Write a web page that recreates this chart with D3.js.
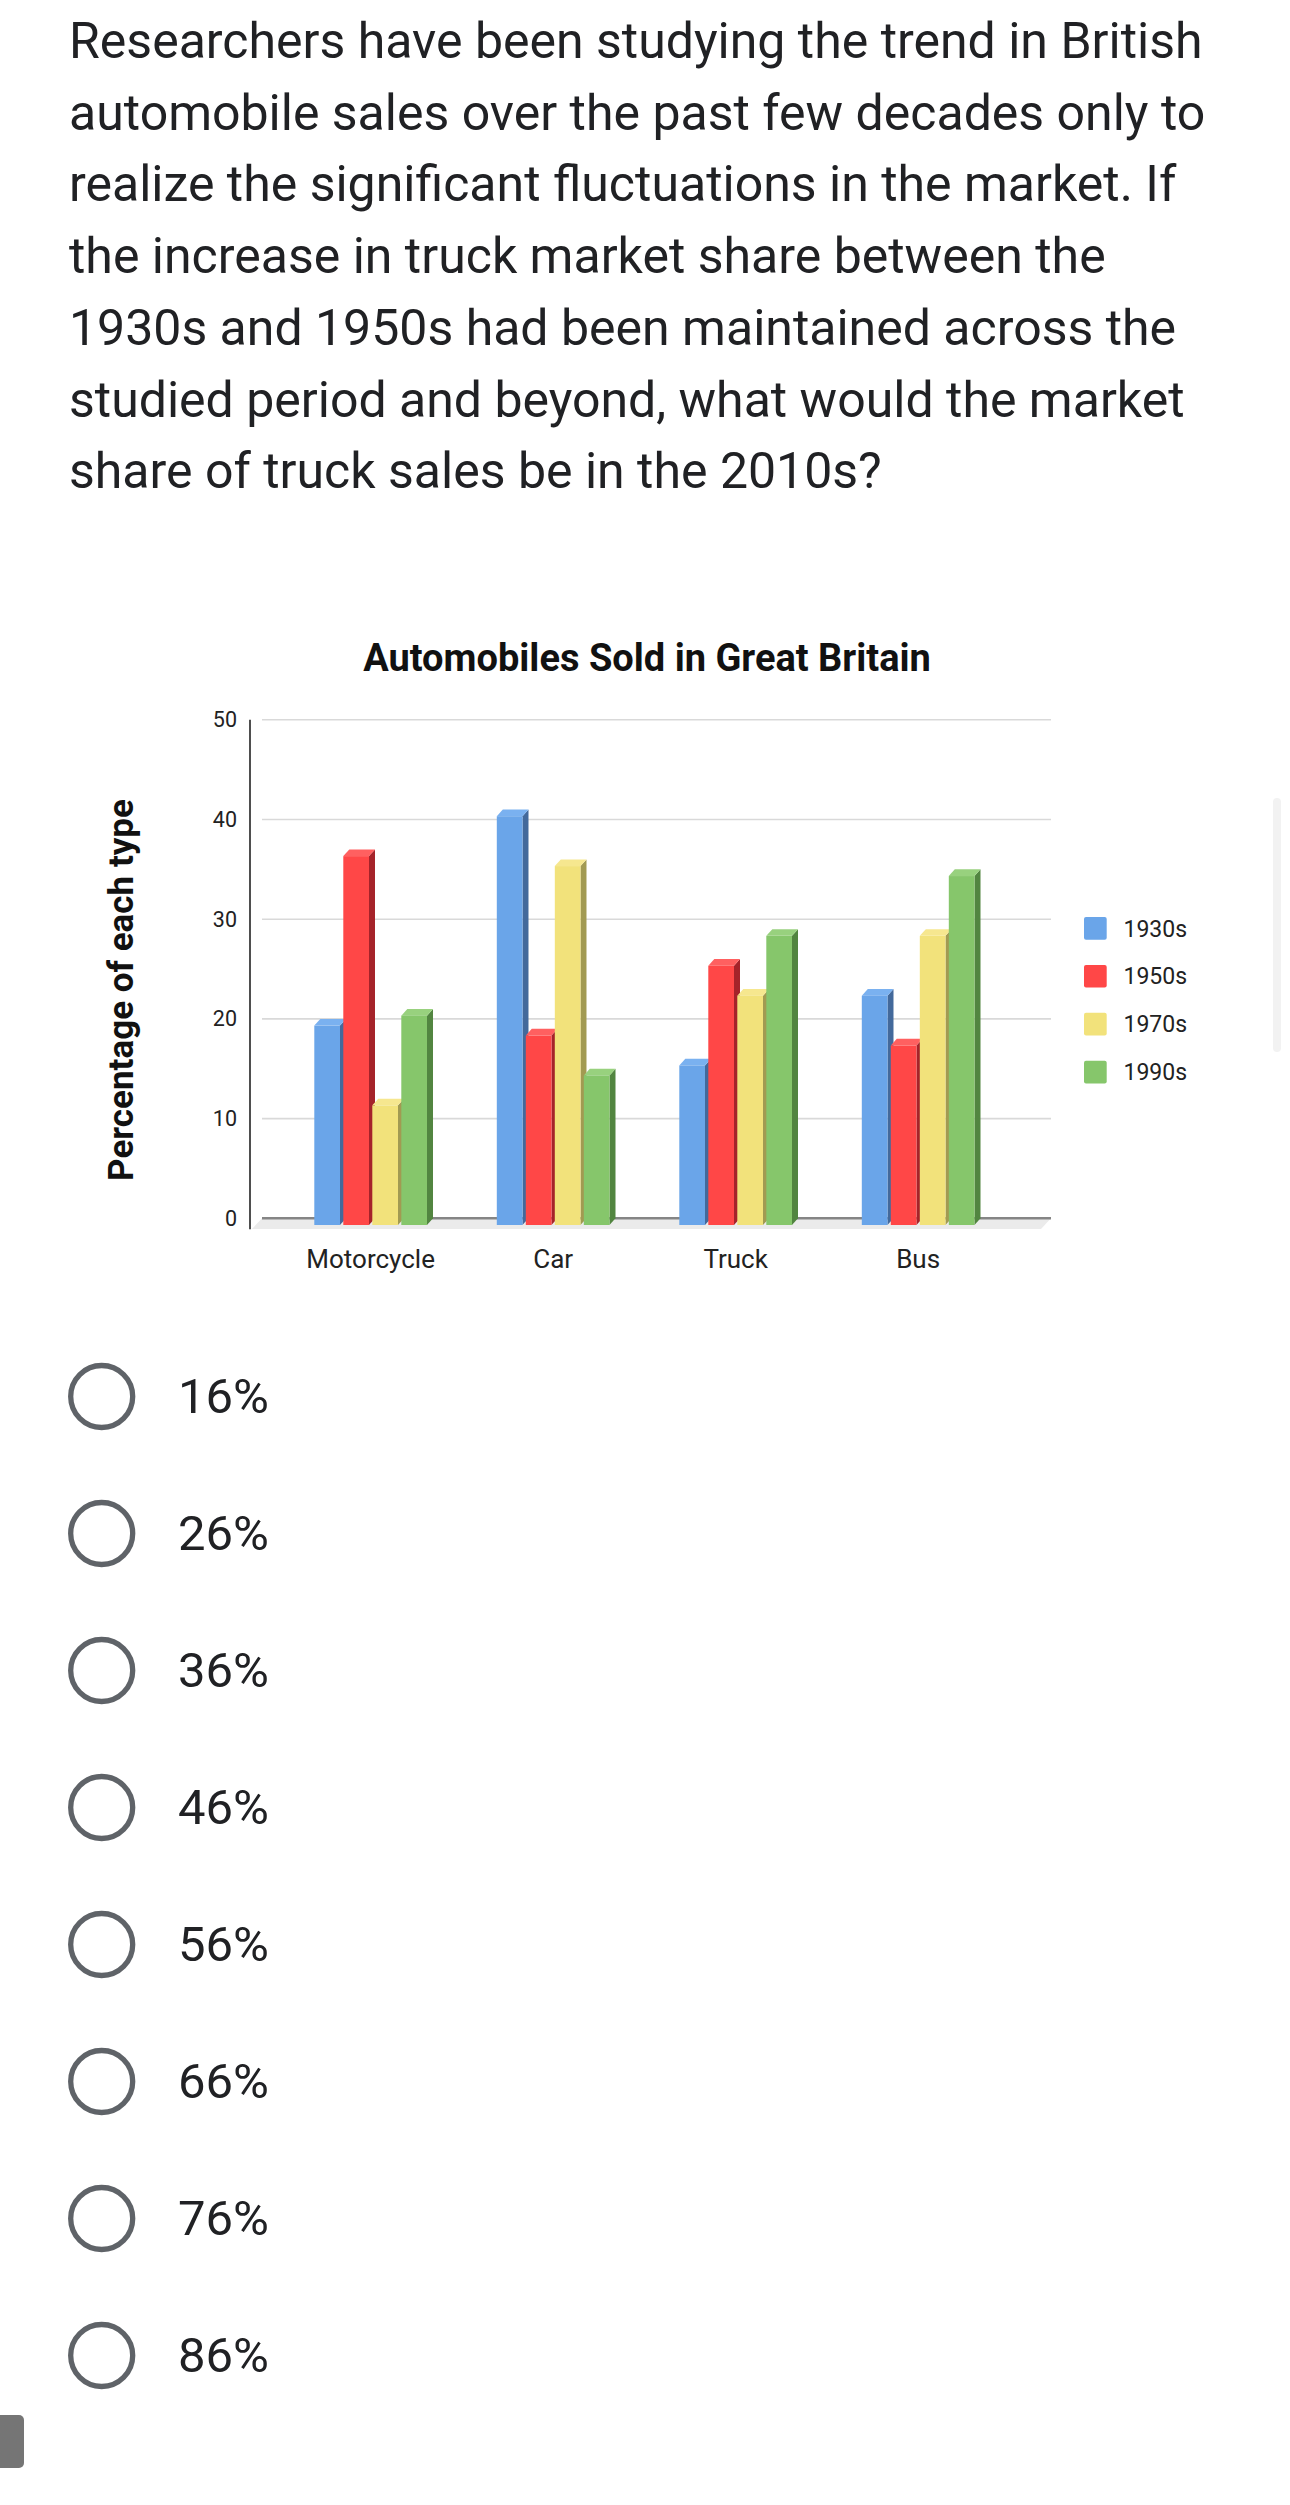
<!DOCTYPE html>
<html lang="en">
<meta charset="utf-8">
<style>
  body { margin: 0; background: #fff; }
  svg text { font-family: Roboto, "Noto Sans", sans-serif; }
</style>
<body>
<div id="my_dataviz"></div>

<script src="https://d3js.org/d3.v7.min.js"></script>
<script>

// question text, one entry per line
var questionLines = [
  "Researchers have been studying the trend in British",
  "automobile sales over the past few decades only to",
  "realize the significant fluctuations in the market. If",
  "the increase in truck market share between the",
  "1930s and 1950s had been maintained across the",
  "studied period and beyond, what would the market",
  "share of truck sales be in the 2010s?"
];

// chart data
var categories = ["Motorcycle", "Car", "Truck", "Bus"];
var series = ["1930s", "1950s", "1970s", "1990s"];
var values1930s = [20, 41, 16, 23];
var values1950s = [37, 19, 26, 18];
var values1970s = [12, 36, 23, 29];
var values1990s = [21, 15, 29, 35];
var yTicks = [0, 10, 20, 30, 40, 50];

var answerOptions = ["16%", "26%", "36%", "46%", "56%", "66%", "76%", "86%"];

var allValues = [values1930s, values1950s, values1970s, values1990s];

// face colours per series: front, side, top
var frontColor = ["#6aa5e9", "#ff4747", "#f2e27b", "#86c66b"];
var sideColor  = ["#43699b", "#a5232a", "#a29a52", "#528540"];
var topColor   = ["#7ab1f0", "#ff6060", "#f6e78f", "#98d17e"];

var svg = d3.select("#my_dataviz")
  .append("svg")
    .attr("width", 1290)
    .attr("height", 2505);

// question
svg.append("g").selectAll("text")
  .data(questionLines)
  .enter()
  .append("text")
    .attr("x", 69)
    .attr("y", function(d, i) { return 58 + i * 71.7; })
    .attr("font-size", 50)
    .attr("fill", "#202124")
    .text(function(d) { return d; });

// chart title
svg.append("text")
  .attr("x", 647)
  .attr("y", 671)
  .attr("text-anchor", "middle")
  .attr("font-size", 38)
  .attr("font-weight", "bold")
  .attr("fill", "#111")
  .text("Automobiles Sold in Great Britain");

// scales
var x = d3.scaleBand()
  .domain(categories)
  .range([282.4, 1012.4]);

var xs = d3.scaleBand()
  .domain(series)
  .range([0, 112.7])
  .paddingInner(0.114)
  .paddingOuter(0);

var y = d3.scaleLinear()
  .domain([0, 50])
  .range([1218.3, 719.8]);

var dx = 6, dy = 6.7;   // depth of the 3d bars
var gridLeft = 262, gridRight = 1051;

// floor
svg.append("path")
  .attr("d", "M" + gridLeft + "," + y(0) + " L" + gridRight + "," + y(0) +
             " L" + (gridRight - 10) + "," + (y(0) + 10.7) +
             " L" + (gridLeft - 10) + "," + (y(0) + 10.7) + " Z")
  .attr("fill", "#ebebeb");

// gridlines
svg.append("g").selectAll("line")
  .data(yTicks.filter(function(d) { return d > 0; }))
  .enter()
  .append("line")
    .attr("x1", gridLeft)
    .attr("x2", gridRight)
    .attr("y1", function(d) { return y(d); })
    .attr("y2", function(d) { return y(d); })
    .attr("stroke", "#d9d9d9")
    .attr("stroke-width", 1.6);

// zero line
svg.append("line")
  .attr("x1", gridLeft)
  .attr("x2", gridRight)
  .attr("y1", y(0))
  .attr("y2", y(0))
  .attr("stroke", "#858585")
  .attr("stroke-width", 2.6);

// y axis line
svg.append("line")
  .attr("x1", 250)
  .attr("x2", 250)
  .attr("y1", y(50))
  .attr("y2", y(0) + 11)
  .attr("stroke", "#222")
  .attr("stroke-width", 1.6);

// y tick labels
svg.append("g").selectAll("text")
  .data(yTicks)
  .enter()
  .append("text")
    .attr("x", 237)
    .attr("y", function(d) { return y(d); })
    .attr("dy", "0.35em")
    .attr("text-anchor", "end")
    .attr("font-size", 21.5)
    .attr("fill", "#222")
    .text(function(d) { return d; });

// y axis title
svg.append("text")
  .attr("transform", "translate(133,990) rotate(-90)")
  .attr("text-anchor", "middle")
  .attr("font-size", 35)
  .attr("font-weight", "bold")
  .attr("fill", "#111")
  .text("Percentage of each type");

// x labels
svg.append("g").selectAll("text")
  .data(categories)
  .enter()
  .append("text")
    .attr("x", function(d) { return x(d) + x.bandwidth() / 2 - 3; })
    .attr("y", 1268)
    .attr("text-anchor", "middle")
    .attr("font-size", 26)
    .attr("fill", "#222")
    .text(function(d) { return d; });

// 3d bars
var groupWidth = xs.range()[1] + dx;
var bars = [];
categories.forEach(function(c, i) {
  series.forEach(function(s, j) {
    bars.push({cat: c, ser: s, j: j, value: allValues[j][i]});
  });
});

var barG = svg.append("g").selectAll("g")
  .data(bars)
  .enter()
  .append("g");

function faces(d) {
  var fx = x(d.cat) + x.bandwidth() / 2 - groupWidth / 2 + xs(d.ser);
  var w = xs.bandwidth();
  var ft = y(d.value) + dy;
  var fb = y(0) + dy;
  return {fx: fx, w: w, ft: ft, fb: fb};
}

barG.append("path")
  .attr("d", function(d) {
    var f = faces(d);
    return "M" + (f.fx + f.w) + "," + f.ft + " L" + (f.fx + f.w + dx) + "," + (f.ft - dy) +
           " L" + (f.fx + f.w + dx) + "," + (f.fb - dy) + " L" + (f.fx + f.w) + "," + f.fb + " Z";
  })
  .attr("fill", function(d) { return sideColor[d.j]; });

barG.append("path")
  .attr("d", function(d) {
    var f = faces(d);
    return "M" + f.fx + "," + f.ft + " L" + (f.fx + dx) + "," + (f.ft - dy) +
           " L" + (f.fx + f.w + dx) + "," + (f.ft - dy) + " L" + (f.fx + f.w) + "," + f.ft + " Z";
  })
  .attr("fill", function(d) { return topColor[d.j]; });

barG.append("rect")
  .attr("x", function(d) { return faces(d).fx; })
  .attr("y", function(d) { return faces(d).ft; })
  .attr("width", function(d) { return faces(d).w; })
  .attr("height", function(d) { return faces(d).fb - faces(d).ft; })
  .attr("fill", function(d) { return frontColor[d.j]; });

// legend
var legend = svg.append("g").selectAll("g")
  .data(series)
  .enter()
  .append("g")
    .attr("transform", function(d, i) { return "translate(1084," + (928.3 + i * 47.9) + ")"; });

legend.append("rect")
  .attr("x", 0)
  .attr("y", -11.3)
  .attr("width", 22.7)
  .attr("height", 22.7)
  .attr("rx", 2)
  .attr("fill", function(d, i) { return frontColor[i]; });

legend.append("text")
  .attr("x", 39.5)
  .attr("y", 0)
  .attr("dy", "0.36em")
  .attr("font-size", 23)
  .attr("fill", "#222")
  .text(function(d) { return d; });

// faint scrollbar at the right edge
svg.append("rect")
  .attr("x", 1273)
  .attr("y", 798)
  .attr("width", 8)
  .attr("height", 254)
  .attr("rx", 4)
  .attr("fill", "#f2f2f2");

// answer options
var opt = svg.append("g").selectAll("g")
  .data(answerOptions)
  .enter()
  .append("g")
    .attr("transform", function(d, i) { return "translate(0," + (1396.5 + i * 137) + ")"; });

opt.append("circle")
  .attr("cx", 101.7)
  .attr("cy", 0)
  .attr("r", 31)
  .attr("fill", "none")
  .attr("stroke", "#5f6368")
  .attr("stroke-width", 5.3);

opt.append("text")
  .attr("x", 178)
  .attr("y", 16)
  .attr("font-size", 49)
  .attr("fill", "#202124")
  .text(function(d) { return d; });

// grey tab at bottom left
svg.append("rect")
  .attr("x", -6)
  .attr("y", 2415)
  .attr("width", 30)
  .attr("height", 53)
  .attr("rx", 5)
  .attr("fill", "#757575");

</script>
</body>
</html>
